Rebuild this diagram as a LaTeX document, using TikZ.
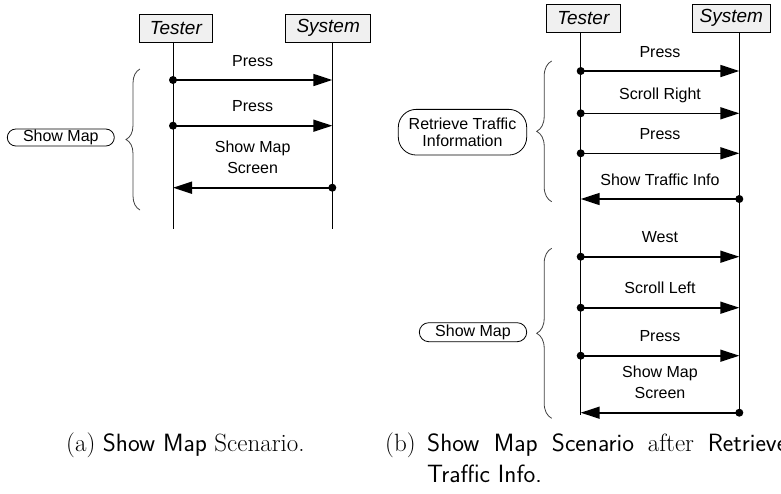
\documentclass[tikz,border=0pt]{standalone}
\usepackage{fontspec}
\newfontfamily\diafont{Liberation Sans}
\usetikzlibrary{arrows.meta,decorations.pathreplacing}
\tikzset{
  actor/.style={draw, line width=0.8pt, fill=gray!12, minimum height=28pt, inner sep=0pt,
    font=\diafont\itshape\fontsize{19}{22}\selectfont},
  lifeline/.style={line width=1pt},
  msg/.style={line width=1.6pt, -{Triangle[length=19pt,width=12pt]}},
  dot/.style={circle, fill, inner sep=0pt, minimum size=8pt},
  lbl/.style={midway, above=13pt, inner sep=0pt, text depth=0pt, align=center,
    font=\diafont\fontsize{16}{21.5}\selectfont},
  grp/.style={draw, line width=0.8pt, inner sep=0pt, align=center,
    font=\diafont\fontsize{16}{17.7}\selectfont},
  grpbrace/.style={decorate, decoration={brace, amplitude=#1}, line width=0.8pt, black!75},
  capt/.style={inner sep=0pt, anchor=base west, font=\fontsize{25}{31}\selectfont},
}
\begin{document}
\begin{tikzpicture}[x=1pt, y=-1pt]
  \useasboundingbox (0,0) rectangle (781,493);
  % (a) show map alone
  \node[actor, minimum width=73pt] (testerA) at (175.8,27.9) {Tester};
  \node[actor, minimum width=85pt] (systemA) at (328.2,27.9) {System};
  \coordinate (tA) at (173,41.8);     \coordinate (tAend) at (173,228.7);
  \coordinate (sA) at (332.3,41.8);   \coordinate (sAend) at (332.3,228.7);
  \draw[lifeline] (tA) -- (tAend);
  \draw[lifeline] (sA) -- (sAend);
  \foreach \i/\y/\from/\to/\txt in {1/80/ta/sa/Press, 2/125.7/ta/sa/Press,
      3/187.7/sa/ta/{Show Map\\Screen}} {
    \coordinate (ta\i) at (173,\y);
    \coordinate (sa\i) at (332.3,\y);
    \draw[msg] (\from\i) node[dot] {} -- node[lbl] {\txt} (\to\i);
  }
  \coordinate (bAtop) at (140,69);  \coordinate (bAbot) at (140,210);
  \draw[grpbrace=14pt] (bAbot) -- (bAtop);
  \node[grp, rounded corners=8.5pt, minimum width=107pt, minimum height=17pt] (showmapA)
    at (60.8,137.5) {Show Map};

  % (b) show map after retrieve traffic info
  \node[actor, minimum width=73.3pt] (testerB) at (583.3,18.3) {Tester};
  \node[actor, minimum width=77.3pt] (systemB) at (731.3,18.3) {System};
  \coordinate (tB) at (580.7,32.5);   \coordinate (tBend) at (580.7,415);
  \coordinate (sB) at (739.3,32.5);   \coordinate (sBend) at (739.3,415);
  \draw[lifeline] (tB) -- (tBend);
  \draw[lifeline] (sB) -- (sBend);
  \foreach \i/\y/\from/\to/\txt in {1/71/tb/sb/Press, 2/113.3/tb/sb/Scroll Right,
      3/153.3/tb/sb/Press, 4/199/sb/tb/Show Traffic Info, 5/256.7/tb/sb/West,
      6/307.7/tb/sb/Scroll Left, 7/355.7/tb/sb/Press, 8/412.7/sb/tb/{Show Map\\Screen}} {
    \coordinate (tb\i) at (580.7,\y);
    \coordinate (sb\i) at (739.3,\y);
    \draw[msg] (\from\i) node[dot] {} -- node[lbl] {\txt} (\to\i);
  }
  \coordinate (bBtop) at (551.7,61);    \coordinate (bBbot) at (551.7,201.7);
  \coordinate (bCtop) at (551.7,248.3); \coordinate (bCbot) at (551.7,418.3);
  \draw[grpbrace=15pt] (bBbot) -- (bBtop);
  \draw[grpbrace=15pt] (bCbot) -- (bCtop);
  \node[grp, rounded corners=18pt, minimum width=128.4pt, minimum height=45.7pt] (retrieve)
    at (462.5,132.2) {Retrieve Traffic\\Information};
  \node[grp, rounded corners=9.5pt, minimum width=107.4pt, minimum height=19pt] (showmapB)
    at (473,332.2) {Show Map};

  % captions
  \node[capt] (capA) at (66,451) {(a) \textsf{Show Map} Scenario.};
  \node[capt] (capBtag) at (385,451) {(b)};
  \node[capt] (capB) at (427,451)
    {\makebox[360pt][s]{\textsf{Show Map Scenario} after \textsf{Retrieve}}};
  \node[capt] (capBnext) at (427,482) {\textsf{Traffic Info.}};
\end{tikzpicture}
\end{document}
